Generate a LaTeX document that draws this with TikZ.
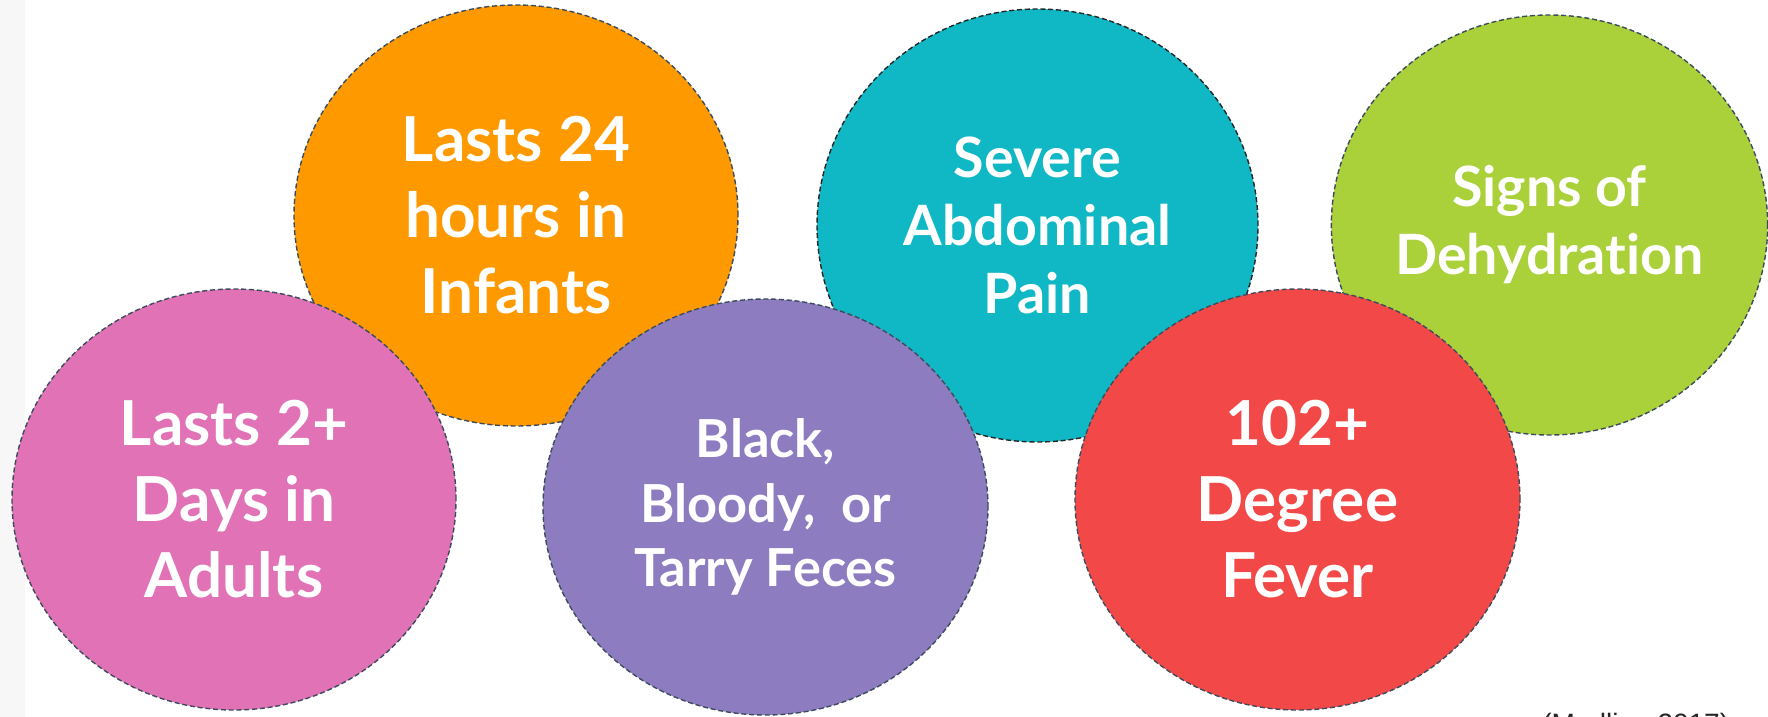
\documentclass[tikz,border=0pt]{standalone}
\usepackage{fontspec}
\setmainfont{Lato}[Ligatures=NoCommon]
\newfontfamily\citefont{Liberation Sans}
\usepackage{xcolor}
\usetikzlibrary{shapes.geometric}

\definecolor{pinkA}{HTML}{E072B5}
\definecolor{orangeA}{HTML}{FE9A00}
\definecolor{tealA}{HTML}{10B7C4}
\definecolor{purpleA}{HTML}{8D7CC0}
\definecolor{redA}{HTML}{F24848}
\definecolor{greenA}{HTML}{AAD03A}
\definecolor{rimgray}{HTML}{3C4C5C}
\definecolor{stripgray}{HTML}{F7F7F7}

\begin{document}
\begin{tikzpicture}[
  x=0.5pt, y=-0.5pt,
  bubble/.style={ellipse, draw=rimgray, line width=0.7pt, dash pattern=on 2.5pt off 1.4pt,
    inner sep=0pt, align=center, text=white},
  bigtxt/.style={font=\fontsize{31}{38}\selectfont\bfseries},
  midtxt/.style={font=\fontsize{27.8}{34}\selectfont\bfseries},
  smalltxt/.style={font=\fontsize{26.2}{32.3}\selectfont\bfseries}
]
\clip (0,0) rectangle (1768,717);
\fill[white] (0,0) rectangle (1768,717);
\fill[stripgray] (0,0) rectangle (25,717);

% back row
\node[bubble, bigtxt, fill=orangeA, minimum width=222pt, minimum height=210.5pt] (infants) at (516,215.5) {Lasts 24\\hours in\\Infants};
\node[bubble, midtxt, fill=tealA, draw=black!85, minimum width=220.5pt, minimum height=216.5pt] (pain) at (1037.5,225.5) {Severe\\Abdominal\\Pain};
\node[bubble, midtxt, fill=greenA, minimum width=217.5pt, minimum height=210pt] (dehyd) at (1549.5,225) {Signs of\\Dehydration};

% front row
\node[bubble, bigtxt, fill=pinkA, minimum width=222pt, minimum height=210.5pt] (adults) at (234,499.5) {Lasts 2+\\Days in\\Adults};
\node[bubble, smalltxt, fill=purpleA, minimum width=222.5pt, minimum height=208pt] (feces) at (765.5,507) {Black,\\Bloody,~ or\\Tarry Feces};
\node[bubble, bigtxt, fill=redA, minimum width=222.5pt, minimum height=210.5pt] (fever) at (1297.5,499.5) {102+\\Degree\\Fever};

% source, cut off at the lower edge
\node[anchor=base west, inner sep=0pt, text=black!85, font=\citefont\fontsize{14}{16}\selectfont] (cite) at (1542,733) {(Medline 2017)};
\end{tikzpicture}
\end{document}
